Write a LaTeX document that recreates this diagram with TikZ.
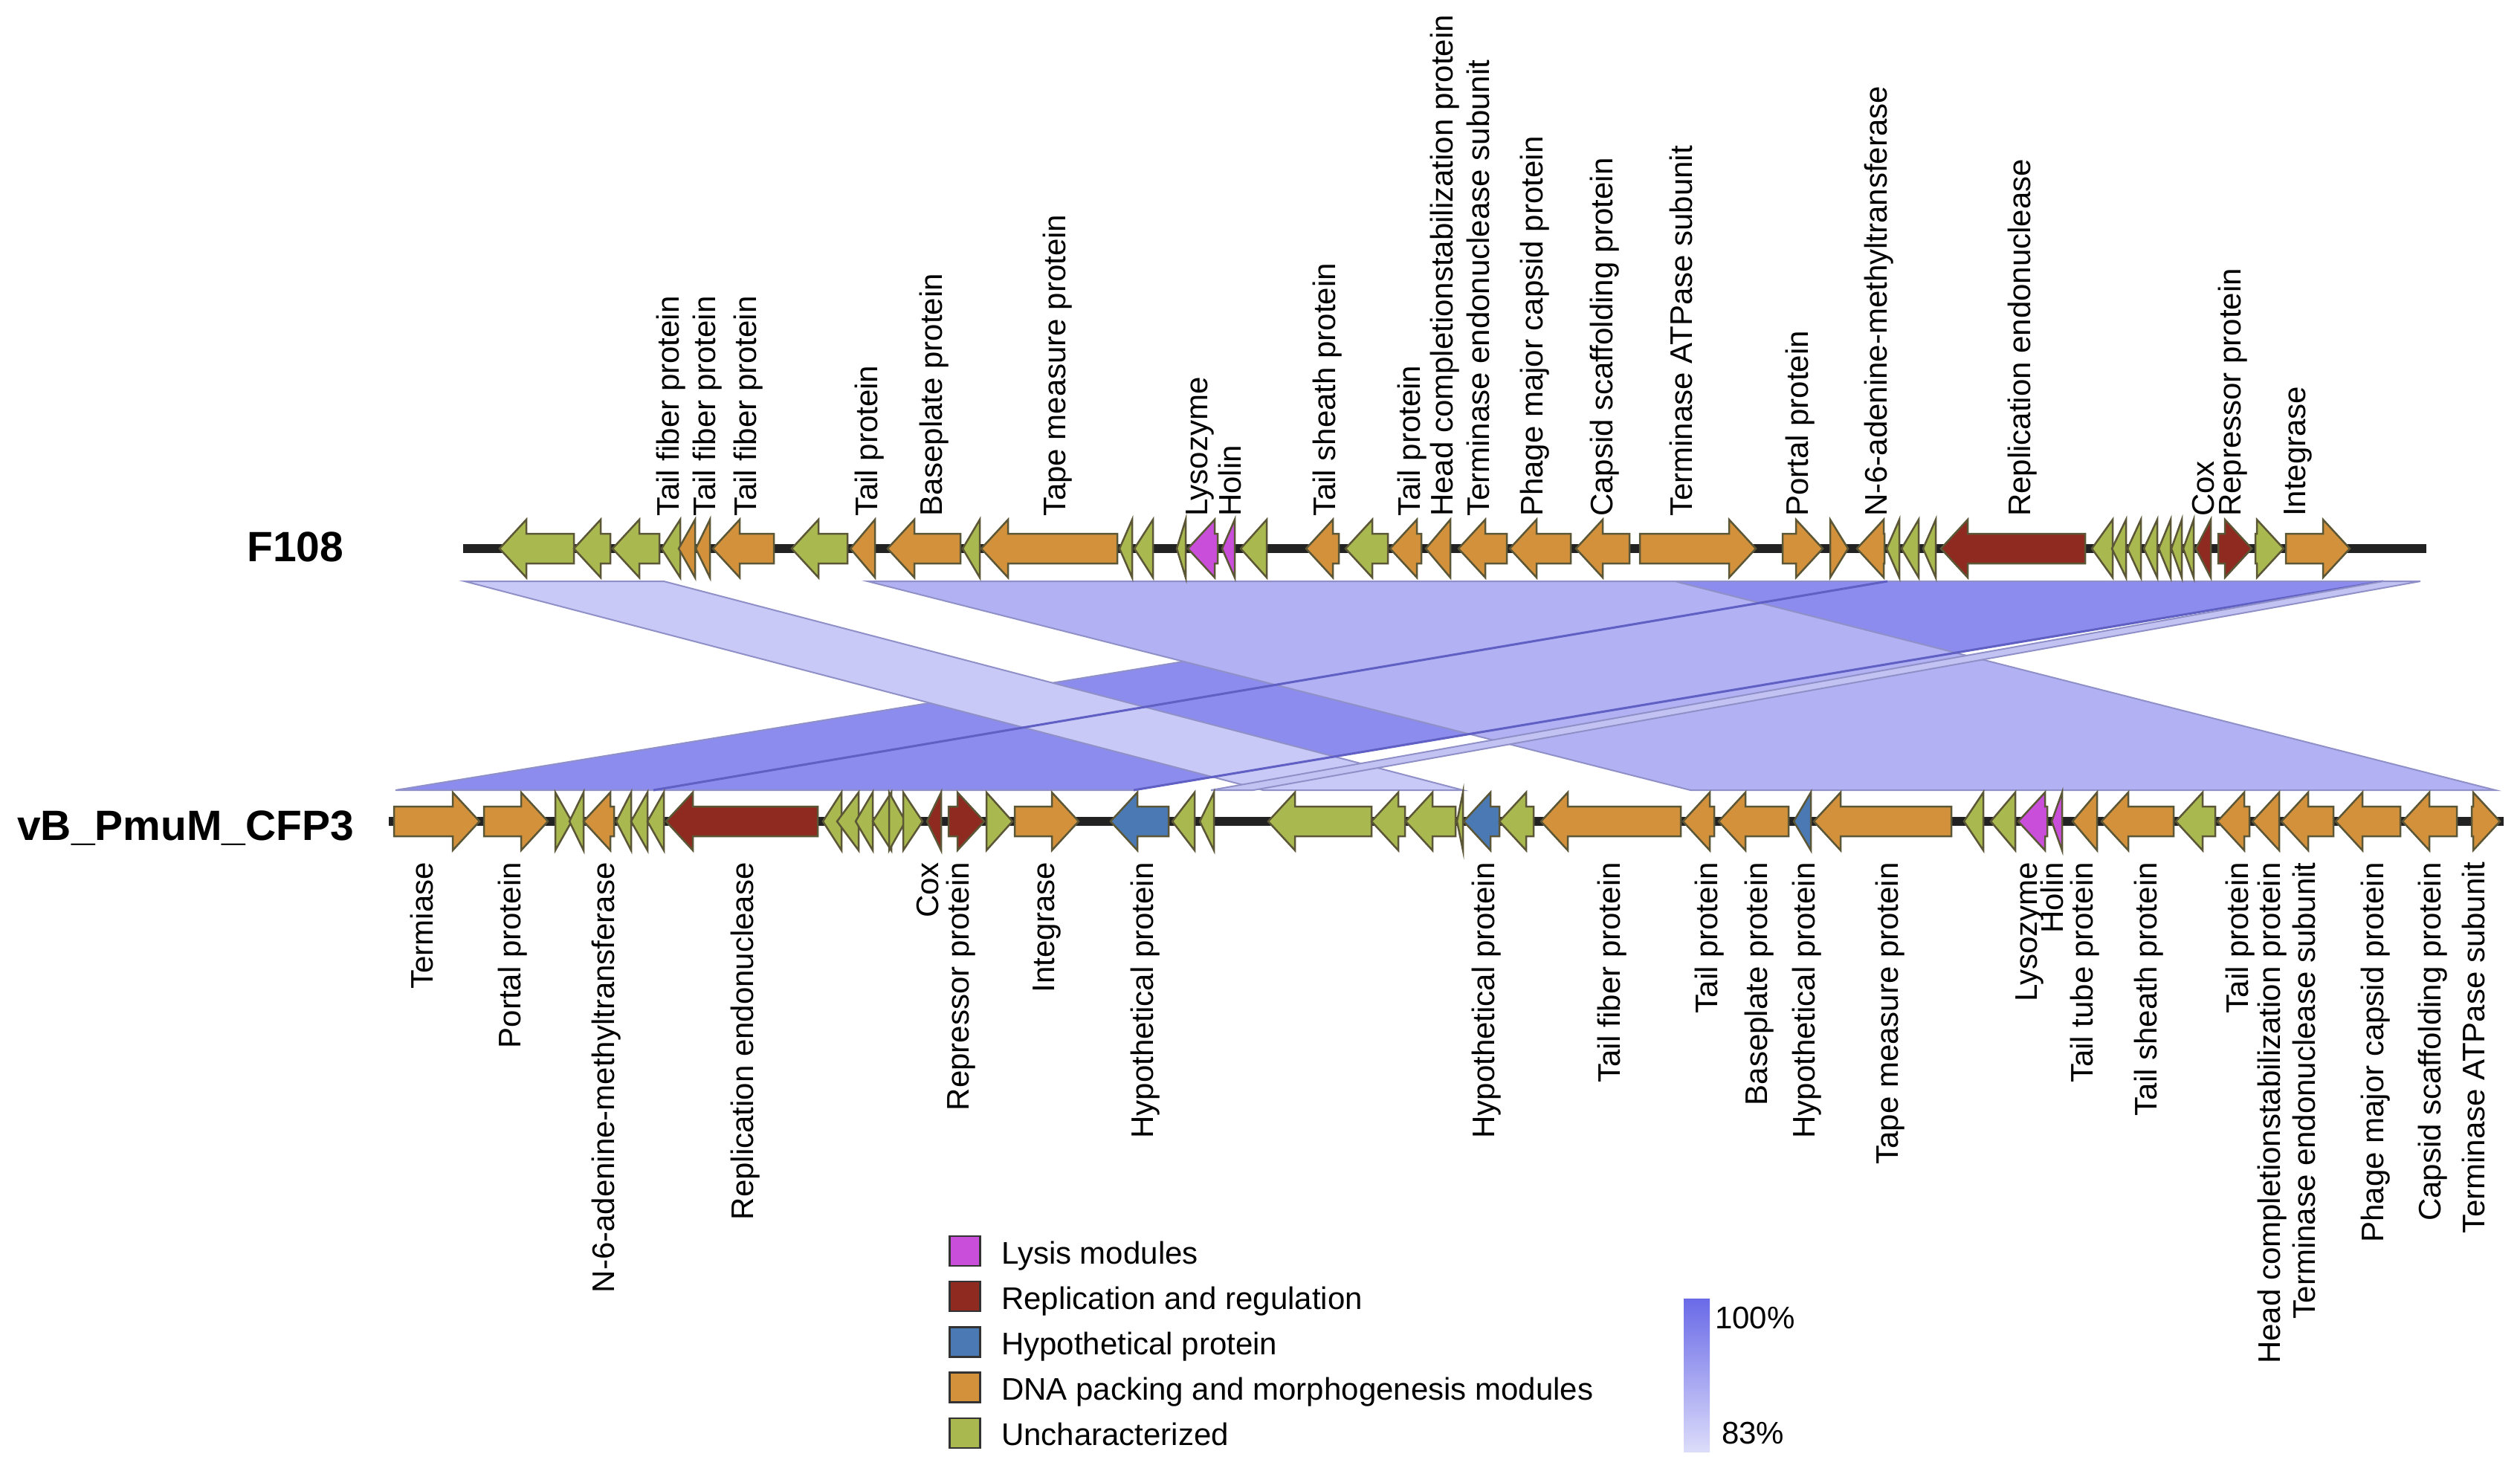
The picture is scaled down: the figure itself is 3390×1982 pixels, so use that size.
\documentclass[tikz,border=0pt]{standalone}
\usepackage{fontspec}
\setmainfont{Liberation Sans}
\usepackage{tikz}

\definecolor{lysis}{HTML}{C94FDB}
\definecolor{repl}{HTML}{8E2A1F}
\definecolor{hypo}{HTML}{4B79B4}
\definecolor{pack}{HTML}{D3913B}
\definecolor{unch}{HTML}{A9B94F}
\definecolor{genedge}{HTML}{5B5636}
\definecolor{genome}{HTML}{222222}
\definecolor{idA}{HTML}{C9C9F7}
\definecolor{idB}{HTML}{B1B1F3}
\definecolor{idC}{HTML}{8C8CEF}
\definecolor{idT}{HTML}{C3C3F3}
\definecolor{hitedge}{HTML}{9090C8}
\definecolor{hitline}{HTML}{5F5FC4}
\definecolor{gradtop}{HTML}{6A6AE8}
\definecolor{gradbot}{HTML}{DCDCFA}

\newcommand{\lblfont}{\fontsize{42}{50}\selectfont}
\newcommand{\namefont}{\fontsize{57}{66}\selectfont\bfseries}

% arrow of one gene: y, tail, tip, colour
\newcommand{\gene}[4]{%
  \pgfmathsetmacro{\hb}{#3-sign(#3-#2)*min(36,abs(#3-#2))}%
  \filldraw[gene, fill=#4] (#2,#1-20) -- (\hb,#1-20) -- (\hb,#1-39) -- (#3,#1)
    -- (\hb,#1+39) -- (\hb,#1+20) -- (#2,#1+20) -- cycle;}

\begin{document}
\begin{tikzpicture}[x=1pt, y=-1pt,
    gene/.style={draw=genedge, line width=2.5pt, line join=miter},
    hit/.style={draw=hitedge, line width=2pt},
    toplbl/.style={font=\lblfont, inner sep=0pt, rotate=90, anchor=base west},
    botlbl/.style={font=\lblfont, inner sep=0pt, rotate=90, anchor=base east},
    gname/.style={font=\namefont, inner sep=0pt, anchor=base west},
    legbox/.style={draw=black!80, line width=2.5pt, minimum width=41pt, minimum height=40pt, inner sep=0pt},
    legtext/.style={font=\lblfont, inner sep=0pt, anchor=base west}]
\useasboundingbox (0,0) rectangle (3390,1982);

% blast hits
\filldraw[hit, fill=idC] (2253,782) -- (3206,782) -- (1525,1063) -- (532,1063) -- cycle;
\filldraw[hit, fill=idB] (1167,782) -- (2253,782) -- (3357,1063) -- (2274,1063) -- cycle;
\filldraw[hit, fill=idA] (625,782) -- (893,782) -- (1968,1063) -- (1699,1063) -- cycle;
\draw[hitline, line width=3pt] (2539,782) -- (879,1063);
\draw[hitline, line width=3pt] (3206,782) -- (1525,1063);
\filldraw[hit, fill=idT] (3206,782) -- (3256,782) -- (1686,1063) -- (1629,1063) -- cycle;

% genomes
\node[gname] (f108) at (332,755) {F108};
\node[gname] (cfp3) at (23,1130) {vB\_PmuM\_CFP3};
\draw[genome, line width=12pt] (623,738) -- (3264,738);
\draw[genome, line width=12pt] (523,1105) -- (3368,1105);

\foreach \a/\b/\c in {772/672/unch, 821/772/unch, 887/824/unch, 915/890/unch,
    935/913/pack, 955/936/pack, 1041/959/pack, 1140/1065/unch, 1177/1144/pack,
    1292/1194/pack, 1318/1295/unch, 1503/1320/pack, 1523/1506/unch, 1551/1526/unch,
    1595/1583/unch, 1638/1598/lysis, 1661/1644/lysis, 1704/1669/unch, 1801/1757/pack,
    1867/1810/unch, 1912/1870/pack, 1951/1918/pack, 2027/1962/pack, 2113/2031/pack,
    2192/2120/pack, 2206/2362/pack, 2398/2452/pack, 2462/2486/pack, 2535/2498/pack,
    2555/2538/unch, 2581/2558/unch, 2604/2587/unch, 2805/2611/repl, 2842/2814/unch,
    2860/2841/unch, 2880/2862/unch, 2902/2884/unch, 2920/2904/unch, 2935/2921/unch,
    2951/2937/unch, 2974/2954/repl, 2984/3029/repl, 3034/3072/unch, 3075/3161/pack}
  {\gene{738}{\a}{\b}{\c}}

\foreach \a/\b/\c in {530/645/pack, 651/737/pack, 747/769/unch, 785/766/unch,
    826/785/pack, 849/829/unch, 871/849/unch, 893/871/unch, 1100/896/repl,
    1132/1107/unch, 1155/1126/unch, 1174/1151/unch, 1199/1174/unch, 1196/1218/unch,
    1215/1241/unch, 1266/1247/repl, 1276/1324/repl, 1327/1362/unch, 1365/1451/pack,
    1572/1494/hypo, 1607/1577/unch, 1633/1614/unch, 1845/1706/unch, 1890/1845/unch,
    1958/1891/unch, 1968/1960/unch, 2017/1969/hypo, 2063/2017/unch, 2261/2073/pack,
    2306/2264/pack, 2406/2312/pack, 2436/2413/hypo, 2625/2440/pack, 2668/2642/unch,
    2711/2678/unch, 2754/2715/lysis, 2774/2760/lysis, 2821/2788/pack, 2924/2827/pack,
    2980/2927/unch, 3026/2983/pack, 3066/3030/pack, 3139/3069/pack, 3229/3142/pack,
    3305/3232/pack, 3325/3363/pack}
  {\gene{1105}{\a}{\b}{\c}}

% gene labels
\foreach \x/\t [count=\i] in {913/Tail fiber protein, 962/Tail fiber protein,
    1017/Tail fiber protein, 1180/Tail protein, 1267/Baseplate protein,
    1433/Tape measure protein, 1624/Lysozyme, 1669/Holin, 1796/Tail sheath protein,
    1910/Tail protein, 1954/Head completionstabilization protein,
    2003/Terminase endonuclease subunit, 2075/Phage major capsid protein,
    2169/Capsid scaffolding protein, 2276/Terminase ATPase subunit,
    2432/Portal protein, 2538/N-6-adenine-methyltransferase,
    2731/Replication endonuclease, 2978/Cox, 3014/Repressor protein, 3101/Integrase}
  \node[toplbl] (t\i) at (\x,695) {\t};

\foreach \x/\t [count=\i] in {582/Termiase, 700/Portal protein,
    826/N-6-adenine-methyltransferase, 1013/Replication endonuclease, 1262/Cox,
    1303/Repressor protein, 1418/Integrase, 1551/Hypothetical protein,
    2010/Hypothetical protein, 2179/Tail fiber protein, 2310/Tail protein,
    2377/Baseplate protein, 2441/Hypothetical protein, 2553/Tape measure protein,
    2740/Lysozyme, 2775/Holin, 2815/Tail tube protein, 2901/Tail sheath protein,
    3024/Tail protein, 3067/Head completionstabilization protein,
    3114/Terminase endonuclease subunit, 3206/Phage major capsid protein,
    3283/Capsid scaffolding protein, 3342/Terminase ATPase subunit}
  \node[botlbl] (b\i) at (\x,1160) {\t};

% legend
\foreach \c/\t [count=\i from 0] in {lysis/Lysis modules, repl/Replication and regulation,
    hypo/Hypothetical protein, pack/DNA packing and morphogenesis modules, unch/Uncharacterized}
{
  \node[legbox, fill=\c] (k\i) at (1298,1683+61.2*\i) {};
  \node[legtext] (l\i) at (1347,1700+61*\i) {\t};
}
\shade[top color=gradtop, bottom color=gradbot] (2265,1747) rectangle (2300,1953);
\node[legtext] (hi) at (2307,1787) {100\%};
\node[legtext] (lo) at (2316,1942) {83\%};

\end{tikzpicture}
\end{document}
